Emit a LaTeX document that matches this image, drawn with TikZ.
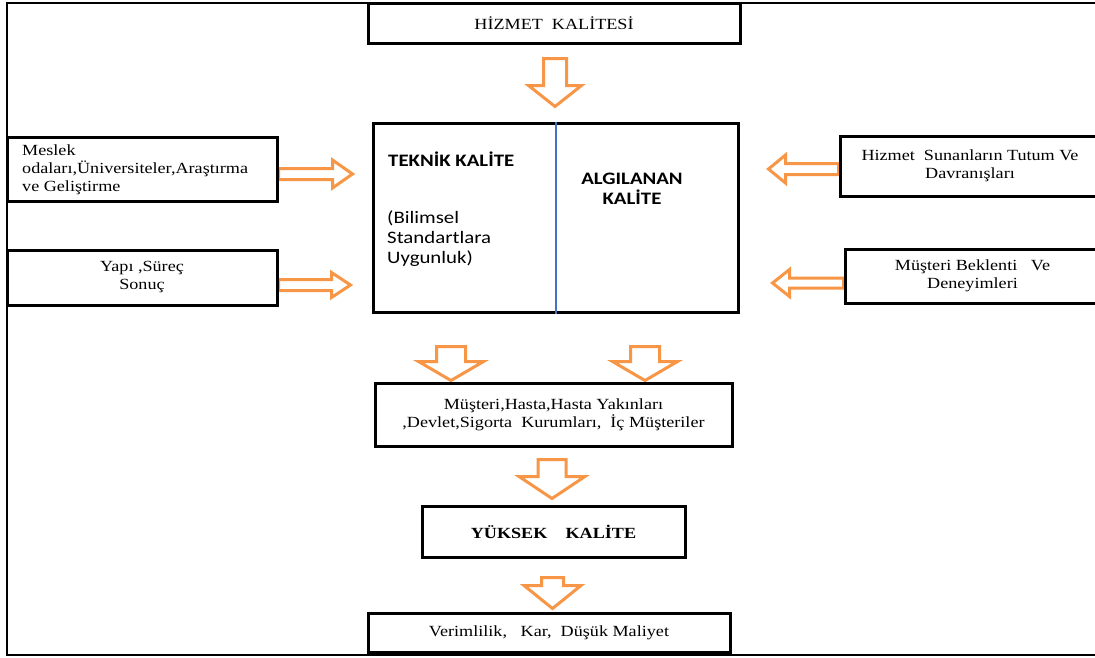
\documentclass[tikz,border=0pt]{standalone}
\usepackage{fontspec}
\setmainfont{Liberation Serif}[FakeStretch=1.17]
\newfontfamily\calibri{Carlito}[FakeStretch=1.19]
\usetikzlibrary{calc,backgrounds}
\definecolor{arroworange}{HTML}{F79646}
\definecolor{dividerblue}{HTML}{4472C4}

% Outlined block arrow from #1 to its tip #2:
% #3 half shaft width, #4 half head width, #5 head length
\newcommand\fatarrow[5]{%
  \coordinate (#1-hb) at ($(#2)!#5!(#1)$);
  \draw[blockarrow]
    ($(#1)!#3!90:(#2)$) -- ($(#1-hb)!#3!-90:(#1)$) --
    ($(#1-hb)!#4!-90:(#1)$) -- (#2) --
    ($(#1-hb)!#4!90:(#1)$) -- ($(#1-hb)!#3!90:(#1)$) --
    ($(#1)!#3!-90:(#2)$) -- cycle;
}

\begin{document}
\begin{tikzpicture}[x=1pt,y=-1pt,
  box/.style={draw=black, line width=3pt, inner sep=0pt},
  frame/.style={draw=black, line width=2.5pt},
  blockarrow/.style={draw=arroworange, line width=3pt, fill=white, line join=miter},
  serif/.style={font=\fontsize{15.5}{18}\selectfont, align=center, inner sep=0pt},
  serifbold/.style={font=\fontsize{15.5}{18}\selectfont\bfseries, align=center, inner sep=0pt},
  sans/.style={font=\calibri\fontsize{17.5}{20}\selectfont, align=left, inner sep=0pt},
  sansbold/.style={font=\calibri\fontsize{17.5}{20}\selectfont\bfseries, inner sep=0pt},
]
\useasboundingbox (0,0) rectangle (1095,657);

% outer frame (open on the right)
\draw[frame] (1110,3) -- (7,3) -- (7,655) -- (1110,655);

% boxes
\node[box, minimum width=372pt, minimum height=40pt, serif] (top) at (554,23) {HİZMET~~KALİTESİ};
\node[box, minimum width=365pt, minimum height=189pt] (mid) at (555.5,217.5) {};
\node[box, minimum width=270pt, minimum height=64pt] (lb1) at (142,169) {};
\node[box, minimum width=270pt, minimum height=55pt, serif] (lb2) at (142,277.5) {Yapı ,Süreç\\Sonuç};
\node[box, minimum width=260pt, minimum height=60pt, serif] (rb1) at (970,166) {Hizmet~~Sunanların Tutum Ve\\Davranışları};
\node[box, minimum width=255pt, minimum height=54pt, serif] (rb2) at (972.5,276) {Müşteri Beklenti~~~Ve\\Deneyimleri};
\node[box, minimum width=357pt, minimum height=63pt, serif] (stk) at (553.5,414.5) {Müşteri,Hasta,Hasta Yakınları\\,Devlet,Sigorta~~Kurumları,~~İç Müşteriler};
\node[box, minimum width=263pt, minimum height=51pt, serifbold] (hq) at (553.5,531.5) {YÜKSEK~~~~KALİTE};
\node[box, minimum width=362pt, minimum height=39pt, serif] (res) at (549,632.5) {Verimlilik,~~~Kar,~~Düşük Maliyet};

% texts inside boxes
\node[serif, align=left, anchor=west] (lb1t) at (22,170) {Meslek\\odaları,Üniversiteler,Araştırma\\ve Geliştirme};
\draw[dividerblue, line width=2pt] (mid.north) -- (mid.south);
\node[sansbold, anchor=west] (tk) at (388,159) {TEKNİK KALİTE};
\node[sans, anchor=west] (tkd) at (387,239) {(Bilimsel\\Standartlara\\Uygunluk)};
\node[sansbold, align=center] (ak) at (632,189) {ALGILANAN\\KALİTE};

% block arrows
\begin{pgfonlayer}{background}
\coordinate (a1s) at ($(top.south)+(1,14)$);
\coordinate (a1t) at ($(mid.north -| a1s)+(0,-15)$);
\fatarrow{a1s}{a1t}{11.5pt}{26.5pt}{21pt}

\coordinate (a2s) at ($(lb1.east)+(0,5)$);
\coordinate (a2t) at ($(mid.west |- a2s)+(-19,0)$);
\fatarrow{a2s}{a2t}{5.5pt}{14pt}{20pt}

\coordinate (a3s) at ($(lb2.east)+(0,7.5)$);
\coordinate (a3t) at ($(mid.west |- a3s)+(-21,0)$);
\fatarrow{a3s}{a3t}{5.5pt}{12.5pt}{19pt}

\coordinate (a4s) at ($(rb1.west)+(0,3)$);
\coordinate (a4t) at ($(mid.east |- a4s)+(29,0)$);
\fatarrow{a4s}{a4t}{5.5pt}{14pt}{17pt}

\coordinate (a5s) at ($(rb2.west)+(0,7)$);
\coordinate (a5t) at ($(mid.east |- a5s)+(33,0)$);
\fatarrow{a5s}{a5t}{5pt}{13.5pt}{17pt}

\coordinate (a6s) at ($(mid.south)+(-104.5,33)$);
\coordinate (a6t) at ($(stk.north -| a6s)+(0,-1)$);
\fatarrow{a6s}{a6t}{14.5pt}{32.5pt}{19pt}

\coordinate (a7s) at ($(mid.south)+(89.5,33)$);
\coordinate (a7t) at ($(stk.north -| a7s)+(0,-1)$);
\fatarrow{a7s}{a7t}{14.5pt}{32.5pt}{19pt}

\coordinate (a8s) at ($(stk.south)+(-1.5,12)$);
\coordinate (a8t) at ($(hq.north -| a8s)+(0,-6)$);
\fatarrow{a8s}{a8t}{14pt}{33pt}{22pt}

\coordinate (a9s) at ($(hq.south)+(-1,19)$);
\coordinate (a9t) at ($(res.north -| a9s)+(0,-3)$);
\fatarrow{a9s}{a9t}{11pt}{28.5pt}{23pt}
\end{pgfonlayer}
\end{tikzpicture}
\end{document}
